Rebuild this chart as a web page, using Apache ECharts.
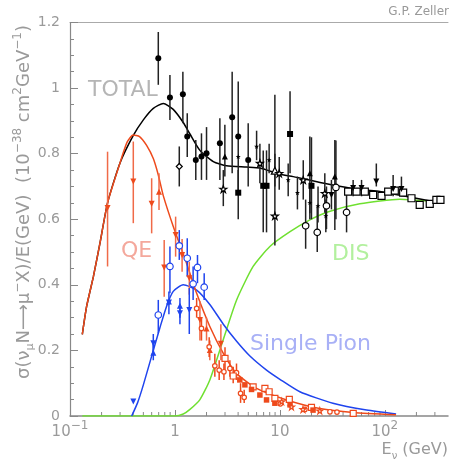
<!DOCTYPE html>
<html><head><meta charset="utf-8">
<script src="https://cdn.jsdelivr.net/npm/echarts@6/dist/echarts.min.js"></script>
<style>html,body{margin:0;padding:0;background:#fff}#c{width:451px;height:462px}</style>
</head><body><div id="c"></div>
<script>
// ---- axis ticks ----
const xTickPowers = [-1, 0, 1, 2];
const xTickBase = ['10', '1', '10', '10'];
const xTickSup = ['−1', '', '', '2'];
const xMinorTicks = [0.2,0.3,0.4,0.5,0.6,0.7,0.8,0.9,2,3,4,5,6,7,8,9,20,30,40,50,60,70,80,90,200,300];

// ---- model curves [E (GeV), sigma/E] ----
const totalCurve = [[0.131,0.249],[0.144,0.334],[0.167,0.425],[0.193,0.527],[0.228,0.650],[0.299,0.771],[0.40,0.855],[0.50,0.903],[0.622,0.938],[0.774,0.953],[0.963,0.935],[1.2,0.895],[1.39,0.86],[1.73,0.81],[2.32,0.776],[3.1,0.763],[4.8,0.759],[6.45,0.756],[10,0.737],[13.4,0.730],[27.8,0.708],[57.8,0.690],[89.7,0.685],[120,0.677],[288,0.654]];
const qeCurve = [[0.131,0.249],[0.144,0.334],[0.167,0.425],[0.193,0.527],[0.228,0.650],[0.299,0.771],[0.35,0.835],[0.40,0.857],[0.46,0.852],[0.537,0.825],[0.622,0.785],[0.694,0.735],[0.774,0.672],[0.964,0.578],[1.29,0.466],[1.61,0.374],[2.15,0.273],[2.89,0.191],[3.86,0.130],[6.0,0.084],[11.6,0.049],[24,0.023],[50,0.011],[128,0.004]];
const pionCurve = [[0.387,0],[0.44,0.04],[0.50,0.095],[0.622,0.20],[0.72,0.27],[0.833,0.335],[0.963,0.38],[1.2,0.400],[1.61,0.384],[2.15,0.34],[2.89,0.28],[3.87,0.228],[5.18,0.183],[7.46,0.14],[10,0.112],[15.5,0.074],[32,0.039],[67,0.018],[128,0.006]];
const disCurve = [[0.131,0],[0.5,0],[1.0,0],[1.2,0.006],[1.39,0.02],[1.73,0.05],[2.15,0.11],[2.88,0.232],[3.87,0.354],[5.56,0.456],[8.03,0.517],[12.5,0.562],[19.3,0.598],[29,0.623],[57.8,0.647],[139,0.661],[288,0.654]];

// ---- measurements [E, value, errLow, errHigh] ----
const blkCircleF = [[0.694,1.091,1.010,1.171],[0.896,0.971,0.903,1.040],[1.19,0.981,0.893,1.050],[1.31,0.852,0.79,0.923],[1.58,0.781,0.720,0.842],[1.79,0.791,0.720,0.862],[2.0,0.801,0.720,0.881],[2.68,0.832,0.720,0.908],[3.51,0.911,0.740,1.050],[4.01,0.852,0.684,1.020],[4.99,0.781,0.70,0.893]];
const blkCircleO = [[17.6,0.580,0.51,0.66],[22.7,0.560,0.50,0.64],[27.8,0.641,0.57,0.70],[34.2,0.697,0.60,0.84],[43.2,0.621,0.56,0.69]];
const blkDiamondO = [[1.10,0.761,0.700,0.822]];
const blkSquareF = [[4.01,0.681,0.60,0.75],[6.94,0.702,0.56,0.81],[7.46,0.702,0.56,0.81],[12.5,0.860,0.74,0.99],[20,0.702,0.60,0.85]];
const blkSquareO = [[44.7,0.684],[53.8,0.684],[64.5,0.684],[77.4,0.674],[93,0.671],[107.6,0.684],[124.5,0.687],[149.5,0.681],[179.5,0.664],[215,0.644],[268,0.647],[310,0.659],[339,0.659]];
const blkTriDownF = [[31,0.674,0.63,0.72],[49.9,0.695,0.67,0.72],[60,0.695,0.67,0.72],[83,0.715,0.70,0.77],[120,0.692,0.67,0.735],[144,0.692,0.67,0.73]];
const blkTriUpF = [[2.99,0.791,0.73,0.888],[19.3,0.740,0.618,0.852],[33.4,0.730,0.567,0.842]];
const blkTriUpO = [[8.96,0.748,0.70,0.80]];
const blkStarF = [[4.01,0.791],[6.0,0.822,0.78,0.87],[7.9,0.781,0.74,0.83],[12,0.720,0.67,0.77],[14.7,0.681,0.63,0.73],[19.3,0.651,0.60,0.71],[23.1,0.641,0.59,0.70],[27.4,0.610,0.56,0.66]];
const blkStarO = [[2.89,0.692,0.64,0.75],[6.45,0.771,0.71,0.83],[8.96,0.610,0.52,0.98],[9.86,0.740,0.69,0.79],[16.7,0.720,0.66,0.78],[26.8,0.679,0.62,0.74]];

const redTriDown = [[0.228,0.634,0.456,0.806],[0.401,0.715,0.588,0.837],[0.60,0.647,0.557,0.725],[0.79,0.453,0.364,0.537],[1.015,0.552,0.486,0.608],[1.17,0.491,0.44,0.54],[1.37,0.420,0.37,0.47],[1.73,0.293,0.23,0.35],[2.74,0.220,0.17,0.28]];
const redTriUp = [[0.705,0.684,0.628,0.74],[2.0,0.267,0.23,0.30],[2.15,0.201,0.17,0.23]];
const redCircleO = [[1.61,0.328,0.30,0.36],[1.79,0.267,0.23,0.30],[2.12,0.211,0.18,0.24],[2.40,0.153,0.12,0.19],[2.64,0.14,0.11,0.17],[2.93,0.135,0.11,0.16],[3.34,0.145,0.12,0.17],[3.86,0.132,0.11,0.16],[4.22,0.069,0.04,0.10],[4.57,0.057,0.04,0.08],[10.1,0.037],[17.3,0.020],[30,0.013],[35,0.012]];
const redSquareO = [[3.0,0.176,0.14,0.21],[3.59,0.122,0.10,0.15],[5.56,0.089],[7.2,0.084],[7.9,0.074],[8.96,0.054],[12.3,0.051],[20,0.026],[50,0.008]];
const redSquareF = [[4.15,0.11],[4.64,0.095],[5.37,0.081],[6.45,0.064],[7.46,0.049],[8.96,0.039],[12.5,0.034],[20.7,0.018]];
const redStarO = [[10.4,0.044],[12.9,0.028],[16.6,0.020],[24,0.016]];

const bluCircleO = [[0.694,0.308,0.252,0.354],[0.896,0.456,0.374,0.517],[1.10,0.519,0.476,0.567],[1.31,0.481,0.425,0.542],[1.49,0.403,0.354,0.456],[1.64,0.453,0.405,0.491],[1.90,0.393,0.354,0.435]];
const bluTriDown = [[0.401,0.044],[0.622,0.222,0.19,0.25],[0.876,0.346,0.31,0.38],[1.116,0.313,0.28,0.34],[1.37,0.323,0.25,0.39]];
const bluTriUp = [[0.622,0.193,0.17,0.22],[0.876,0.349],[1.116,0.336,0.30,0.36]];

// ---- build chart ----
const FONT = 'DejaVu Sans';
const GRAY = '#9a9a9a';
const BLACK = '#000000', RED = '#ee4a1c', BLUE = '#1f44ee', GREEN = '#6fe030';
const STAR = 'path://M50,0 L61.8,35.1 98.9,35.1 69.1,57 80.3,92.7 50,70 19.7,92.7 30.9,57 1.1,35.1 38.2,35.1 Z';

function errSeries(arr, color, w) {
  return {
    type: 'custom', silent: true, z: 3, animation: false,
    data: arr.filter(d => d.length >= 4).map(d => [d[0], d[2], d[3]]),
    encode: { x: 0, y: [1, 2] },
    renderItem: function (p, api) {
      const a = api.coord([api.value(0), api.value(1)]);
      const b = api.coord([api.value(0), api.value(2)]);
      return { type: 'line', shape: { x1: a[0], y1: a[1], x2: b[0], y2: b[1] }, style: { stroke: color, lineWidth: w || 1.5 } };
    }
  };
}
function markSeries(arr, symbol, size, color, open, rotate) {
  return {
    type: 'scatter', silent: true, z: 4, animation: false,
    data: arr.map(d => [d[0], d[1]]), symbol: symbol, symbolSize: size, symbolRotate: rotate || 0,
    itemStyle: open ? { color: '#ffffff', borderColor: color, borderWidth: 1.2, opacity: 1 } : { color: color, opacity: 1 }
  };
}
function curve(data, color) {
  return { type: 'line', data: data, smooth: 0.2, showSymbol: false, symbol: 'none', silent: true, z: 2, animation: false,
    lineStyle: { color: color, width: 1.5 } };
}
function group(arr, symbol, size, color, open, rotate, barColor) {
  return [errSeries(arr, barColor || color), markSeries(arr, symbol, size, color, open, rotate)];
}

const series = [
  curve(disCurve, GREEN), curve(pionCurve, BLUE), curve(totalCurve, BLACK), curve(qeCurve, RED),
  {
    type: 'custom', silent: true, z: 1, animation: false,
    data: xMinorTicks.map(v => [v, 0]), encode: { x: 0, y: 1 },
    renderItem: function (p, api) {
      const c = api.coord([api.value(0), 0]);
      return { type: 'line', shape: { x1: c[0], y1: c[1], x2: c[0], y2: c[1] - 4 }, style: { stroke: '#888', lineWidth: 1 } };
    }
  }
].concat(
  group(blkCircleF, 'circle', 6, BLACK, false, 0, '#222'),
  group(blkCircleO, 'circle', 6.5, BLACK, true, 0, '#222'),
  group(blkDiamondO, 'diamond', 6, BLACK, true, 0, '#222'),
  group(blkSquareF, 'rect', 6, BLACK, false, 0, '#222'),
  group(blkSquareO, 'rect', 7, BLACK, true, 0, '#222'),
  group(blkTriDownF, 'triangle', 6, BLACK, false, 180, '#222'),
  group(blkTriUpF, 'triangle', 6, BLACK, false, 0, '#222'),
  group(blkTriUpO, 'triangle', 7, BLACK, true, 0, '#222'),
  group(blkStarF, STAR, 5, BLACK, false, 0, '#222'),
  group(blkStarO, STAR, 7, BLACK, true, 0, '#222'),
  group(redTriDown, 'triangle', 6, RED, false, 180, '#f06a48'),
  group(redTriUp, 'triangle', 6, RED, false, 0, '#f06a48'),
  group(redCircleO, 'circle', 4.5, RED, true, 0, RED),
  group(redSquareO, 'rect', 6, RED, true, 0, RED),
  group(redSquareF, 'rect', 5.5, RED, false, 0, RED),
  group(redStarO, STAR, 6, RED, true, 0, RED),
  group(bluCircleO, 'circle', 6.5, BLUE, true, 0, BLUE),
  group(bluTriDown, 'triangle', 6, BLUE, false, 180, BLUE),
  group(bluTriUp, 'triangle', 6, BLUE, false, 0, BLUE)
);

const chart = echarts.init(document.getElementById('c'));
chart.setOption({
  animation: false,
  backgroundColor: '#ffffff',
  grid: { left: 70, right: 3, top: 22.5, bottom: 46, containLabel: false },
  xAxis: [{
    type: 'log', logBase: 10, min: 0.1, max: 400,
    axisLine: { onZero: false, lineStyle: { color: '#888', width: 1.5 } },
    axisTick: { inside: true, length: 6, lineStyle: { color: '#888' } },
    minorTick: { show: false }, splitLine: { show: false },
    axisLabel: {
      margin: 4, showMaxLabel: false,
      formatter: function (v) {
        const p = Math.round(Math.log10(v) * 1000) / 1000;
        const i = xTickPowers.indexOf(p);
        if (i < 0) return '';
        return '{b|' + xTickBase[i] + '}' + (xTickSup[i] ? '{s|' + xTickSup[i] + '}' : '');
      },
      rich: {
        b: { fontSize: 15, fontFamily: FONT, color: GRAY, lineHeight: 20, verticalAlign: 'bottom' },
        s: { fontSize: 12, fontFamily: FONT, color: GRAY, lineHeight: 11, verticalAlign: 'top' }
      }
    }
  }, {
    type: 'log', logBase: 10, min: 0.1, max: 400, position: 'top',
    axisLine: { onZero: false, lineStyle: { color: '#aaa', width: 1 } },
    axisTick: { show: false }, axisLabel: { show: false }, splitLine: { show: false }
  }],
  yAxis: {
    type: 'value', min: 0, max: 1.2, interval: 0.2,
    axisLine: { show: true, onZero: false, lineStyle: { color: '#888', width: 1.2 } },
    axisTick: { show: true, inside: true, length: 8, lineStyle: { color: '#888' } },
    minorTick: { show: true, splitNumber: 4, length: 4, lineStyle: { color: '#888' } },
    splitLine: { show: false },
    axisLabel: { margin: 10, color: GRAY, fontSize: 14, fontFamily: FONT }
  },
  graphic: [
    { type: 'text', x: 449, y: 12, style: { text: 'G.P. Zeller', fontSize: 12, fontFamily: FONT, fill: '#999', align: 'right', verticalAlign: 'middle' } },
    { type: 'text', x: 88, y: 90, style: { text: 'TOTAL', fontSize: 22, fontFamily: FONT, fill: '#b5b5b5', align: 'left', verticalAlign: 'middle' } },
    { type: 'text', x: 121, y: 251, style: { text: 'QE', fontSize: 22, fontFamily: FONT, fill: '#f4a89c', align: 'left', verticalAlign: 'middle' } },
    { type: 'text', x: 332, y: 254, style: { text: 'DIS', fontSize: 22, fontFamily: FONT, fill: '#b2f09e', align: 'left', verticalAlign: 'middle' } },
    { type: 'text', x: 250, y: 344, style: { text: 'Single Pion', fontSize: 22, fontFamily: FONT, fill: '#a8b0f6', align: 'left', verticalAlign: 'middle' } },
    { type: 'text', x: 448, y: 450, style: {
        text: '{a|E}{s|ν}{a| (GeV)}', align: 'right', verticalAlign: 'middle',
        rich: {
          a: { fontSize: 16, fontFamily: FONT, fill: GRAY, color: GRAY, lineHeight: 22, verticalAlign: 'middle' },
          s: { fontSize: 10, fontFamily: FONT, fill: GRAY, color: GRAY, lineHeight: 10, verticalAlign: 'bottom' }
        } } },
    { type: 'text', x: 24, y: 202, rotation: Math.PI / 2, style: {
        text: '{a|σ(ν}{s|μ}{a|N⟶μ}{p|−}{a|X)/E(GeV)  (10}{p|−38}{a| cm}{p|2}{a|GeV}{p|−1}{a|)}',
        align: 'center', verticalAlign: 'middle',
        rich: {
          a: { fontSize: 18, fontFamily: FONT, fill: GRAY, color: GRAY, lineHeight: 24, verticalAlign: 'middle' },
          s: { fontSize: 11, fontFamily: FONT, fill: GRAY, color: GRAY, lineHeight: 11, verticalAlign: 'bottom' },
          p: { fontSize: 12, fontFamily: FONT, fill: GRAY, color: GRAY, lineHeight: 12, verticalAlign: 'top' }
        } } }
  ],
  series: series
});
</script>
</body></html>
